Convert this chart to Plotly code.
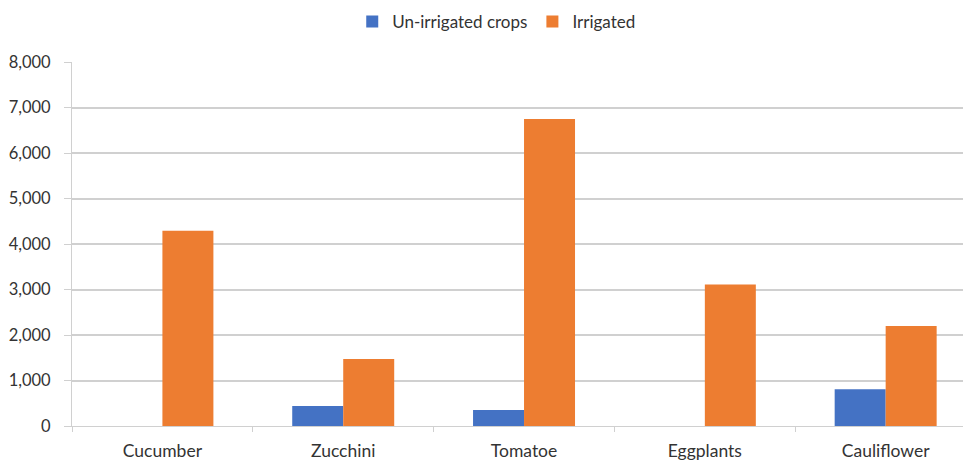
import plotly.graph_objects as go

categories = ["Cucumber", "Zucchini", "Tomatoe", "Eggplants", "Cauliflower"]
unirrigated = [0, 440, 350, 0, 810]
irrigated = [4290, 1470, 6750, 3110, 2200]
y_ticks = [0, 1000, 2000, 3000, 4000, 5000, 6000, 7000, 8000]

FONT = "Lato"
TXT = "#333333"
GRID = "#d0d0d0"

fig = go.Figure()
fig.add_trace(go.Bar(name="Un-irrigated crops", x=categories, y=unirrigated,
                     marker=dict(color="#4472C4", line=dict(width=0))))
fig.add_trace(go.Bar(name="Irrigated", x=categories, y=irrigated,
                     marker=dict(color="#ED7D31", line=dict(width=0))))

fig.update_layout(
    width=963, height=452,
    margin=dict(l=64, r=0, t=54, b=34),
    paper_bgcolor="white", plot_bgcolor="white",
    barmode="group", bargap=0.436, bargroupgap=0,
    font=dict(family=FONT, size=16, color=TXT),
    legend=dict(orientation="h", xref="container", yref="container",
                x=0.507, xanchor="center", y=0.969, yanchor="middle",
                font=dict(size=17, color=TXT), itemwidth=30,
                traceorder="normal"),
    xaxis=dict(range=[-0.5, 4.472], showgrid=False, showline=True,
               linecolor=GRID, linewidth=1, ticks="outside",
               tickson="boundaries", ticklen=5, tickcolor=GRID,
               tickfont=dict(size=17.5, color=TXT), ticklabelstandoff=9),
    yaxis=dict(range=[0, 8000], tickvals=y_ticks, tickformat=",d",
               showgrid=True, gridcolor=GRID, gridwidth=1.5,
               showline=True, linecolor=GRID, linewidth=1,
               ticks="outside", ticklen=7, tickcolor=GRID,
               tickfont=dict(size=16.5, color=TXT), ticklabelstandoff=10,
               zeroline=False),
)

fig.write_html("out.html")
